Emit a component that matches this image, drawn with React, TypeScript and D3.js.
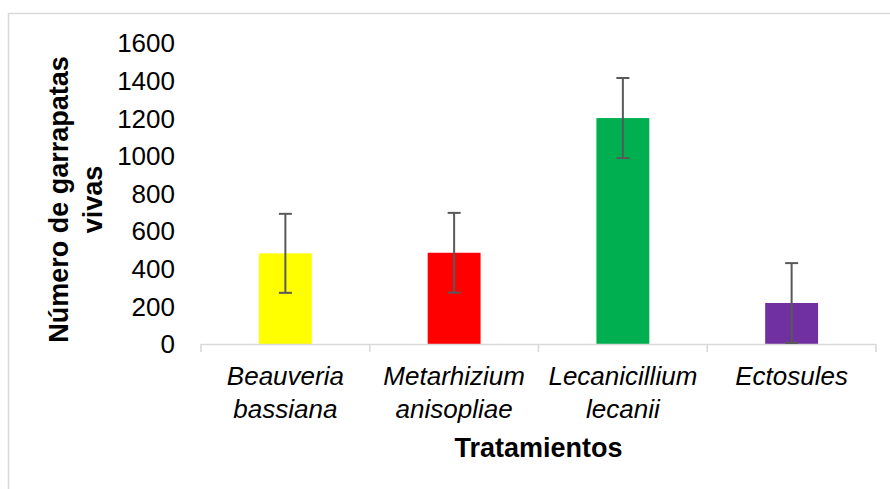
import React from "react";
import * as d3 from "d3";

const categories: string[][] = [
  ["Beauveria", "bassiana"],
  ["Metarhizium", "anisopliae"],
  ["Lecanicillium", "lecanii"],
  ["Ectosules"],
];
const values: number[] = [482, 485, 1201, 218];
const errors: number[] = [210, 212, 213, 212];
const colors: string[] = ["#FFFF00", "#FF0000", "#00B050", "#7030A0"];
const yTicks: number[] = [0, 200, 400, 600, 800, 1000, 1200, 1400, 1600];
const yTitle: string[] = ["Número de garrapatas", "vivas"];
const xTitle = "Tratamientos";

const W = 890;
const H = 489;
const font = "'Liberation Sans', Arial, sans-serif";

export default function App() {
  const keys = categories.map((c) => c.join(" "));
  const gap = 2.19 / 3.19;
  const x = d3
    .scaleBand<string>()
    .domain(keys)
    .range([201, 876])
    .paddingInner(gap)
    .paddingOuter(gap / 2);
  const y = d3.scaleLinear().domain([0, 1600]).range([344, 43]);
  const step = x.step();
  const x0 = x.range()[0];
  const axisY = y(0);
  const bw = x.bandwidth();
  const capW = 13;

  return (
    <svg
      width={W}
      height={H}
      style={{ position: "absolute", left: 0, top: 0, background: "#fff" }}
      fontFamily={font}
    >
      <rect x={0} y={0} width={W} height={H} fill="#fff" />
      <rect x={8.5} y={13.5} width={1000} height={1000} fill="none" stroke="#d9d9d9" strokeWidth={1.5} />

      {/* y tick labels */}
      {yTicks.map((t) => (
        <text key={t} x={175} y={y(t)} dy="0.36em" textAnchor="end" fontSize={26} fill="#000">
          {t}
        </text>
      ))}

      {/* bars */}
      {keys.map((k, i) => (
        <rect key={k} x={x(k)} y={y(values[i])} width={bw} height={axisY - y(values[i])} fill={colors[i]} />
      ))}

      {/* x axis line and ticks */}
      <line x1={x0} x2={x.range()[1]} y1={axisY + 0.5} y2={axisY + 0.5} stroke="#d9d9d9" strokeWidth={1.6} />
      {d3.range(keys.length + 1).map((i) => (
        <line
          key={i}
          x1={x0 + i * step}
          x2={x0 + i * step}
          y1={axisY}
          y2={axisY + 8}
          stroke="#d9d9d9"
          strokeWidth={1.6}
        />
      ))}

      {/* error bars */}
      {keys.map((k, i) => {
        const cx = (x(k) as number) + bw / 2;
        const top = y(values[i] + errors[i]);
        const bot = y(Math.max(0, values[i] - errors[i]));
        return (
          <g key={k} stroke="#595959" strokeWidth={2}>
            <line x1={cx} x2={cx} y1={top} y2={bot} />
            <line x1={cx - capW / 2} x2={cx + capW / 2} y1={top} y2={top} />
            <line x1={cx - capW / 2} x2={cx + capW / 2} y1={bot} y2={bot} />
          </g>
        );
      })}

      {/* category labels */}
      {categories.map((lines, i) => {
        const cx = (x(keys[i]) as number) + bw / 2;
        return (
          <text key={i} textAnchor="middle" fontSize={26} fontStyle="italic" fill="#000">
            {lines.map((l, j) => (
              <tspan key={j} x={cx} y={385 + j * 33}>
                {l}
              </tspan>
            ))}
          </text>
        );
      })}

      {/* x title */}
      <text x={(x.range()[0] + x.range()[1]) / 2} y={457} textAnchor="middle" fontSize={27} fontWeight="bold" fill="#000">
        {xTitle}
      </text>

      {/* y title */}
      {yTitle.map((l, j) => (
        <text
          key={j}
          transform={`translate(${68 + j * 34},199.5) rotate(-90)`}
          textAnchor="middle"
          fontSize={27}
          fontWeight="bold"
          fill="#000"
        >
          {l}
        </text>
      ))}
    </svg>
  );
}
